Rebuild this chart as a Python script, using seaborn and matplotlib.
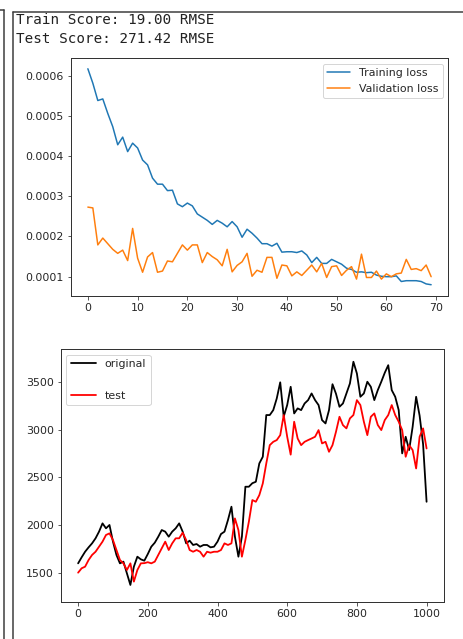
import numpy as np
import pandas as pd
import matplotlib
matplotlib.use("Agg")
import matplotlib.pyplot as plt
from matplotlib.lines import Line2D
import seaborn as sns

# ---------------- data ----------------
train_text = "Train Score: 19.00 RMSE"
test_text = "Test Score: 271.42 RMSE"

epochs = list(range(70))
training_loss = [
    0.000617, 0.000581, 0.000538, 0.000542, 0.000506, 0.000473, 0.000428, 0.000447, 0.000411, 0.000432,
    0.000420, 0.000390, 0.000378, 0.000345, 0.000330, 0.000330, 0.000314, 0.000315, 0.000281, 0.000274,
    0.000283, 0.000276, 0.000256, 0.000248, 0.000240, 0.000230, 0.000240, 0.000233, 0.000224, 0.000237,
    0.000224, 0.000198, 0.000218, 0.000208, 0.000196, 0.000182, 0.000182, 0.000176, 0.000183, 0.000161,
    0.000162, 0.000162, 0.000160, 0.000164, 0.000154, 0.000135, 0.000148, 0.000133, 0.000133, 0.000143,
    0.000137, 0.000131, 0.000121, 0.000118, 0.000111, 0.000112, 0.000110, 0.000111, 0.000104, 0.000101,
    0.000100, 0.000100, 0.000102, 0.000088, 0.000090, 0.000090, 0.000090, 0.000088, 0.000082, 0.000080,
]
validation_loss = [
    0.000273, 0.000271, 0.000179, 0.000196, 0.000182, 0.000168, 0.000158, 0.000166, 0.000140, 0.000220,
    0.000146, 0.000111, 0.000149, 0.000160, 0.000111, 0.000114, 0.000139, 0.000137, 0.000158, 0.000179,
    0.000166, 0.000179, 0.000179, 0.000135, 0.000160, 0.000150, 0.000142, 0.000127, 0.000168, 0.000112,
    0.000128, 0.000137, 0.000158, 0.000101, 0.000116, 0.000111, 0.000148, 0.000148, 0.000096, 0.000129,
    0.000127, 0.000102, 0.000112, 0.000103, 0.000116, 0.000129, 0.000112, 0.000133, 0.000098, 0.000125,
    0.000127, 0.000103, 0.000116, 0.000125, 0.000094, 0.000156, 0.000098, 0.000098, 0.000114, 0.000094,
    0.000107, 0.000100, 0.000107, 0.000109, 0.000143, 0.000118, 0.000120, 0.000115, 0.000129, 0.000100,
]

days = list(range(0, 1001, 10))
original = [
    1598, 1661, 1720, 1766, 1808, 1861, 1931, 2018, 1966, 2001,
    1826, 1686, 1598, 1616, 1493, 1371, 1563, 1668, 1640, 1626,
    1696, 1773, 1815, 1878, 1948, 1931, 1878, 1931, 1966, 2018,
    1931, 1808, 1836, 1791, 1801, 1773, 1791, 1791, 1766, 1773,
    1826, 1906, 1931, 2053, 2193, 1878, 1668, 1878, 2403, 2403,
    2440, 2455, 2648, 2718, 3156, 3156, 3208, 3330, 3500, 3140,
    3261, 3453, 3173, 3226, 3208, 3278, 3313, 3383, 3313, 3261,
    3103, 3068, 3208, 3480, 3380, 3243, 3278, 3383, 3488, 3716,
    3593, 3348, 3383, 3506, 3453, 3313, 3418, 3506, 3600, 3680,
    3418, 3348, 3208, 2753, 2928, 2788, 3033, 3348, 3150, 2850,
    2245,
]
test = [
    1500, 1546, 1563, 1633, 1686, 1720, 1773, 1826, 1896, 1913,
    1843, 1738, 1633, 1598, 1528, 1598, 1406, 1528, 1598, 1600,
    1610, 1598, 1616, 1686, 1756, 1826, 1738, 1808, 1861, 1861,
    1920, 1843, 1738, 1720, 1738, 1720, 1668, 1720, 1710, 1720,
    1720, 1738, 1808, 1791, 1808, 2070, 1948, 1668, 1843, 2036,
    2263, 2245, 2315, 2438, 2648, 2840, 2875, 2893, 2945, 3156,
    2928, 2740, 3086, 2910, 2840, 2875, 2893, 2910, 2928, 2998,
    2858, 2875, 2770, 2840, 2980, 3138, 3050, 3016, 3121, 3156,
    3313, 3261, 3086, 2945, 3138, 3173, 3051, 2998, 3103, 3156,
    3261, 3156, 3086, 2998, 2718, 2840, 2788, 2595, 2928, 3016,
    2805,
]

loss_df = pd.DataFrame({"epoch": epochs, "train": training_loss, "val": validation_loss})
price_df = pd.DataFrame({"day": days, "original": original, "test": test})

# ---------------- style ----------------
sns.set_theme(style="ticks")
plt.rcParams.update({
    "font.family": ["DejaVu Sans"],
    "font.size": 11,
    "xtick.labelsize": 11,
    "ytick.labelsize": 11,
    "legend.fontsize": 11,
    "axes.edgecolor": "#333333",
    "xtick.color": "#333333",
    "ytick.color": "#333333",
    "xtick.labelcolor": "#262626",
    "ytick.labelcolor": "#262626",
    "axes.linewidth": 1.0,
    "xtick.major.size": 3.5,
    "ytick.major.size": 3.5,
    "xtick.major.width": 0.8,
    "ytick.major.width": 0.8,
})

W, H = 463, 639
fig = plt.figure(figsize=(W / 72, H / 72), dpi=72)
fig.patch.set_facecolor("white")


def ax_rect(left, top, right, bottom):
    return [left / W, 1 - bottom / H, (right - left) / W, (bottom - top) / H]


# notebook frame lines
def fline(x0, y0, x1, y1):
    fig.add_artist(Line2D([x0 / W, x1 / W], [1 - y0 / H, 1 - y1 / H],
                          transform=fig.transFigure, color="#3a3a3a", lw=1.5))

fline(4, 10, 4, H)
fline(0, 10, 4, 10)
fline(12.5, 12, 12.5, H)
fline(12.5, 12, W, 12)

# header text
fig.text(16 / W, 1 - 13 / H, train_text, family="DejaVu Sans Mono", fontsize=14.3,
         va="top", ha="left", color="#222222")
fig.text(16 / W, 1 - 32 / H, test_text, family="DejaVu Sans Mono", fontsize=14.3,
         va="top", ha="left", color="#222222")

# ---------------- loss plot ----------------
ax1 = fig.add_axes(ax_rect(70.7, 58.3, 448.3, 295.7))
sns.lineplot(data=loss_df, x="epoch", y="train", ax=ax1, color="#1f77b4",
             label="Training loss", lw=1.5)
sns.lineplot(data=loss_df, x="epoch", y="val", ax=ax1, color="#ff7f0e",
             label="Validation loss", lw=1.5)
ax1.set_xlim(-3.45, 72.45)
ax1.set_ylim(0.0000527, 0.000643)
ax1.set_xticks([0, 10, 20, 30, 40, 50, 60, 70])
ax1.set_yticks([0.0001, 0.0002, 0.0003, 0.0004, 0.0005, 0.0006])
ax1.set_yticklabels(["0.0001", "0.0002", "0.0003", "0.0004", "0.0005", "0.0006"])
ax1.set_xlabel("")
ax1.set_ylabel("")
ax1.legend(loc="upper right", frameon=True, fancybox=True, edgecolor="#cccccc",
           framealpha=0.8, handlelength=2.1)

# ---------------- price plot ----------------
ax2 = fig.add_axes(ax_rect(60.7, 349, 444, 601.7))
sns.lineplot(data=price_df, x="day", y="original", ax=ax2, color="black",
             label="original", lw=1.8)
sns.lineplot(data=price_df, x="day", y="test", ax=ax2, color="red",
             label="test", lw=1.8)
ax2.set_xlim(-50, 1050)
ax2.set_ylim(1195, 3850)
ax2.set_xticks([0, 200, 400, 600, 800, 1000])
ax2.set_yticks([1500, 2000, 2500, 3000, 3500])
ax2.set_xlabel("")
ax2.set_ylabel("")
ax2.legend(loc="upper left", frameon=True, fancybox=True, edgecolor="#cccccc",
           framealpha=0.8, labelspacing=2.0, handlelength=2.3)

fig.savefig("out.png", dpi=72, facecolor="white")
